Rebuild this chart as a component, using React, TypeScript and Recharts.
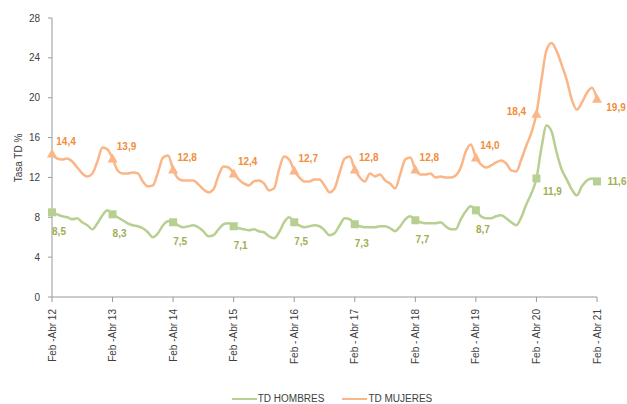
import { LineChart, Line, XAxis, YAxis, Legend } from "recharts";

const months = ["Ene", "Feb", "Mar", "Abr", "May", "Jun", "Jul", "Ago", "Sep", "Oct", "Nov", "Dic"];

const tickLabels = [
  "Feb -Abr 12",
  "Feb -Abr 13",
  "Feb -Abr 14",
  "Feb -Abr 15",
  "Feb - Abr 16",
  "Feb - Abr 17",
  "Feb - Abr 18",
  "Feb - Abr 19",
  "Feb - Abr 20",
  "Feb - Abr 21",
];

// tasa de desempleo, trimestre movil, hombres
const hombres = [
  8.5, 8.3, 8.1, 8.0, 7.8, 7.9, 7.5, 7.2, 6.8, 7.4, 8.2, 8.7,
  8.3, 8.0, 7.7, 7.4, 7.2, 7.1, 6.9, 6.5, 6.0, 6.4, 7.2, 7.6,
  7.5, 7.2, 7.0, 7.1, 7.2, 7.0, 6.6, 6.1, 6.2, 6.8, 7.3, 7.4,
  7.1, 6.9, 6.8, 6.7, 6.8, 6.6, 6.5, 6.1, 5.9, 6.5, 7.5, 8.0,
  7.5, 7.2, 7.0, 7.1, 7.2, 7.1, 6.7, 6.2, 6.4, 7.2, 7.9, 7.8,
  7.3, 7.1, 7.0, 7.0, 7.0, 7.1, 7.1, 6.9, 6.6, 7.1, 7.8, 8.1,
  7.7, 7.5, 7.4, 7.4, 7.4, 7.5, 7.1, 6.8, 6.8, 7.8, 8.6, 9.1,
  8.7, 8.1, 7.9, 7.9, 8.1, 8.2, 7.9, 7.5, 7.2, 8.0, 9.3, 10.4,
  11.9, 15.0, 17.2, 16.6, 14.5, 12.8, 11.8, 10.8, 10.2, 11.1, 11.7, 11.9,
  11.6,
];

// tasa de desempleo, trimestre movil, mujeres
const mujeres = [
  14.4, 13.9, 13.8, 13.9, 13.6, 13.0, 12.4, 12.1, 12.4, 13.6, 15.0, 14.8,
  13.9, 12.7, 12.4, 12.4, 12.5, 12.4, 11.6, 11.1, 11.2, 12.5, 14.0, 14.2,
  12.8, 11.9, 11.7, 11.7, 11.7, 11.3, 10.8, 10.5, 10.8, 12.2, 13.1, 13.0,
  12.4, 11.8, 11.4, 11.2, 11.6, 11.7, 11.4, 10.7, 10.9, 12.8, 14.1, 13.8,
  12.7, 12.0, 11.6, 11.6, 11.8, 11.8, 11.2, 10.5, 10.9, 12.5, 13.9, 14.1,
  12.8, 12.0, 11.6, 12.4, 12.1, 12.3, 11.7, 11.4, 10.9, 12.3, 13.8, 14.0,
  12.8, 12.3, 12.3, 12.4, 12.0, 12.1, 12.0, 12.0, 12.2, 13.0, 14.6, 15.3,
  14.0, 13.3, 13.0, 13.2, 13.5, 13.7, 13.4, 12.7, 12.6, 13.8, 15.2, 16.5,
  18.4, 21.8, 24.8, 25.5, 24.7, 23.3, 21.8, 19.8, 18.8, 19.5, 20.5, 21.0,
  19.9,
];

const yTicks = [0, 4, 8, 12, 16, 20, 24, 28];

const seriesNames = ["TD HOMBRES", "TD MUJERES"];

const GREEN = "#b7d091";
const GREEN_TEXT = "#9fae55";
const ORANGE = "#fab686";
const ORANGE_TEXT = "#f18d3b";

const periodName = (i: number) => {
  if (i % 12 === 0) return tickLabels[i / 12];
  const a = months[(1 + i) % 12];
  const b = months[(3 + i) % 12];
  const yy = 12 + Math.floor((i + 3) / 12);
  return `${a} - ${b} ${yy}`;
};

const data = hombres.map((h, i) => ({
  periodo: periodName(i),
  hombres: h,
  mujeres: mujeres[i],
}));

const fmt = (v: number) => v.toFixed(1).replace(".", ",");

const squareDot = (props: any) => {
  const { cx, cy, index } = props;
  if (index % 12 !== 0) return <g key={`sq-${index}`} />;
  return <rect key={`sq-${index}`} x={cx - 4} y={cy - 4} width={8} height={8} fill={GREEN} />;
};

const triangleDot = (props: any) => {
  const { cx, cy, index } = props;
  if (index % 12 !== 0) return <g key={`tr-${index}`} />;
  return (
    <polygon
      key={`tr-${index}`}
      points={`${cx},${cy - 5} ${cx - 5},${cy + 4} ${cx + 5},${cy + 4}`}
      fill={ORANGE}
    />
  );
};

const hombresLabel = (props: any) => {
  const { x, y, index, value } = props;
  if (index % 12 !== 0) return null;
  let dx = 7;
  let dy = 19;
  if (index === 96) {
    dx = 16;
    dy = 13;
  } else if (index === 108) {
    dx = 20;
    dy = 0;
  }
  return (
    <text
      key={`hl-${index}`}
      x={x + dx}
      y={y + dy}
      dy="0.35em"
      textAnchor="middle"
      fontSize={10}
      fontWeight="bold"
      fill={GREEN_TEXT}
    >
      {fmt(value)}
    </text>
  );
};

const mujeresLabel = (props: any) => {
  const { x, y, index, value } = props;
  if (index % 12 !== 0) return null;
  let dx = 14;
  let dy = -12;
  if (index === 96) {
    dx = -20;
    dy = -2;
  } else if (index === 108) {
    dx = 19;
    dy = 9;
  }
  return (
    <text
      key={`ml-${index}`}
      x={x + dx}
      y={y + dy}
      dy="0.35em"
      textAnchor="middle"
      fontSize={10}
      fontWeight="bold"
      fill={ORANGE_TEXT}
    >
      {fmt(value)}
    </text>
  );
};

const XTick = (props: any) => {
  const { x, y, payload } = props;
  return (
    <text
      x={x}
      y={y + 1}
      transform={`rotate(-90, ${x}, ${y + 1})`}
      textAnchor="end"
      dy="0.35em"
      fontSize={10}
      fill="#404040"
    >
      {payload.value}
    </text>
  );
};

const LegendContent = () => {
  const colors = [GREEN, ORANGE];
  return (
    <div
      style={{
        display: "flex",
        justifyContent: "center",
        height: 14,
        lineHeight: "14px",
        paddingLeft: 37,
        fontSize: 10,
        color: "#404040",
        position: "relative",
        top: 2,
      }}
    >
      {seriesNames.map((n, i) => (
        <div key={n} style={{ display: "flex", alignItems: "center", marginRight: i === 0 ? 18 : 0 }}>
          <span
            style={{
              display: "inline-block",
              width: 25,
              height: 2,
              background: colors[i],
              marginRight: 1,
            }}
          />
          <span>{n}</span>
        </div>
      ))}
    </div>
  );
};

export default function App() {
  return (
    <div
      style={{
        position: "absolute",
        left: 0,
        top: 0,
        width: 627,
        height: 404,
        background: "#fff",
        fontFamily: "'Liberation Sans', Arial, sans-serif",
      }}
    >
      <LineChart
        width={627}
        height={404}
        data={data}
        margin={{ top: 18, right: 30, left: 0, bottom: 0 }}
      >
        <XAxis
          dataKey="periodo"
          interval={11}
          tick={<XTick />}
          tickSize={5}
          tickMargin={6}
          height={93}
          axisLine={{ stroke: "#999" }}
          tickLine={{ stroke: "#999" }}
          padding={{ left: 0, right: 0 }}
        />
        <YAxis
          domain={[0, 28]}
          ticks={yTicks}
          width={52}
          tickSize={4}
          tickMargin={8}
          tick={{ fontSize: 10, fill: "#404040" }}
          axisLine={{ stroke: "#999" }}
          tickLine={{ stroke: "#999" }}
          label={{
            content: () => (
              <text
                x={18}
                y={158}
                transform="rotate(-90, 18, 158)"
                textAnchor="middle"
                dy="0.35em"
                fontSize={10}
                fill="#404040"
              >
                Tasa TD %
              </text>
            ),
          }}
        />
        <Legend verticalAlign="bottom" content={<LegendContent />} wrapperStyle={{ left: 0, width: 627 }} />
        <Line
          type="monotone"
          dataKey="hombres"
          name={seriesNames[0]}
          stroke={GREEN}
          strokeWidth={2.5}
          dot={squareDot}
          activeDot={false}
          label={hombresLabel}
          isAnimationActive={false}
        />
        <Line
          type="monotone"
          dataKey="mujeres"
          name={seriesNames[1]}
          stroke={ORANGE}
          strokeWidth={2.5}
          dot={triangleDot}
          activeDot={false}
          label={mujeresLabel}
          isAnimationActive={false}
        />
      </LineChart>
    </div>
  );
}
